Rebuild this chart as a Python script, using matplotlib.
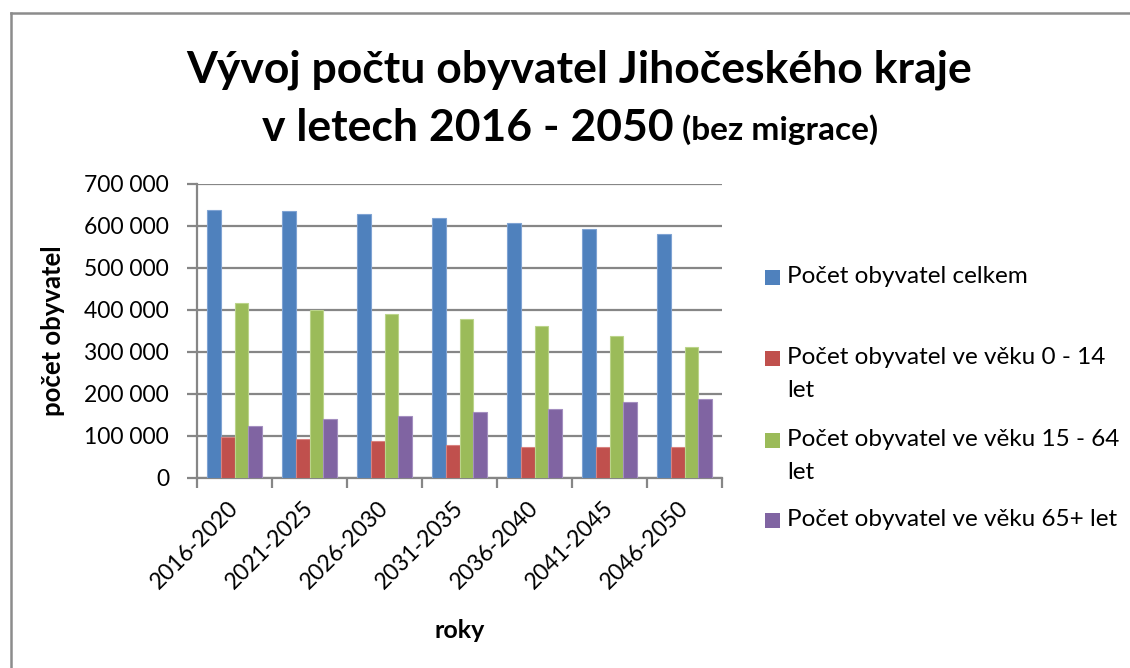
import matplotlib
matplotlib.use("Agg")
import matplotlib.pyplot as plt
import numpy as np
from matplotlib.ticker import FuncFormatter, MultipleLocator
from matplotlib.patches import Rectangle
from matplotlib.lines import Line2D

plt.rcParams['font.family'] = ['Lato', 'DejaVu Sans']

categories = ["2016-2020", "2021-2025", "2026-2030", "2031-2035", "2036-2040", "2041-2045", "2046-2050"]
celkem = [639000, 636000, 629000, 619000, 606000, 594000, 582000]
vek_0_14 = [98000, 94000, 87000, 79000, 74000, 73000, 75000]
vek_15_64 = [417000, 399000, 391000, 379000, 363000, 337000, 313000]
vek_65 = [123000, 140000, 148000, 156000, 165000, 180000, 189000]
series_labels = ["Počet obyvatel celkem", "Počet obyvatel ve věku 0 - 14\nlet",
                 "Počet obyvatel ve věku 15 - 64\nlet", "Počet obyvatel ve věku 65+ let"]
colors = ["#4F81BD", "#C0504D", "#9BBB59", "#8064A2"]
edges = ["#7FA3D3", "#D88280", "#BBD48A", "#A48FC0"]

W, H = 1130, 668
fig = plt.figure(figsize=(W / 100, H / 100), dpi=100)
ax = fig.add_axes([197 / W, 1 - 478 / H, 525 / W, 294 / H])

x = np.arange(len(categories))
bw = 0.183
all_series = [celkem, vek_0_14, vek_15_64, vek_65]
for i, vals in enumerate(all_series):
    ax.bar(x + (i - 1.5) * bw, vals, width=bw, color=colors[i], edgecolor=edges[i],
           linewidth=0.8, zorder=3)

ax.set_xlim(-0.5, len(categories) - 0.5)
ax.set_ylim(0, 700000)
ax.yaxis.set_major_locator(MultipleLocator(100000))
ax.yaxis.set_major_formatter(FuncFormatter(lambda v, p: f"{int(v):,}".replace(",", " ")))
ax.grid(axis='y', color='#868686', linewidth=1.6, zorder=0)
ax.set_axisbelow(True)
for s in ['top', 'right']:
    ax.spines[s].set_visible(False)
for s in ['left', 'bottom']:
    ax.spines[s].set_color('#868686')
    ax.spines[s].set_linewidth(1.6)

ax.set_xticks(np.arange(len(categories) + 1) - 0.5)
ax.set_xticklabels([])
ax.set_xticks(x, minor=True)
ax.set_xticklabels(categories, minor=True, rotation=45, ha='right', va='center',
                   rotation_mode='anchor', fontsize=16.5)
ax.tick_params(axis='x', which='minor', length=0, pad=19)
ax.tick_params(axis='x', which='major', length=7, width=1.6, color='#868686')
ax.tick_params(axis='y', length=7, width=1.6, color='#868686', labelsize=16.5, pad=13)

ax.set_ylabel("počet obyvatel", fontsize=18.5, fontweight='bold')
ax.yaxis.set_label_coords((65 - 197) / 525, 0.5)
fig.text(460 / W, 1 - 630 / H, "roky", fontsize=18, fontweight='bold', ha='center', va='center')

fig.text(579 / W, 1 - 70 / H, "Vývoj počtu obyvatel Jihočeského kraje", fontsize=32,
         fontweight='bold', ha='center', va='center')
t1 = fig.text(262 / W, 1 - 128 / H, "v letech 2016 - 2050", fontsize=32, fontweight='bold',
              ha='left', va='center')
fig.canvas.draw()
bb = t1.get_window_extent()
fig.text((bb.x1 + 8) / W, 1 - 130 / H, "(bez migrace)", fontsize=24, fontweight='bold',
         ha='left', va='center')

# legend (Excel style: marker aligned with first line)
leg_y = [277, 358, 440, 520]
for i, lab in enumerate(series_labels):
    y = leg_y[i]
    fig.patches.append(Rectangle((765 / W, 1 - (y + 7.5) / H), 15 / W, 15 / H,
                                 transform=fig.transFigure, facecolor=colors[i],
                                 edgecolor='none'))
    fig.text(787 / W, 1 - (y - 11) / H, lab, fontsize=17.5, ha='left', va='top',
             linespacing=1.72)

# outer border (left & top)
fig.add_artist(Line2D([10.5 / W, 10.5 / W], [0, 1 - 13 / H], color='#8C8C8C', linewidth=1.8,
                      transform=fig.transFigure))
fig.add_artist(Line2D([10.5 / W, 1], [1 - 13 / H, 1 - 13 / H], color='#8C8C8C', linewidth=1.8,
                      transform=fig.transFigure))

fig.savefig("out.png", dpi=100, facecolor='white')
